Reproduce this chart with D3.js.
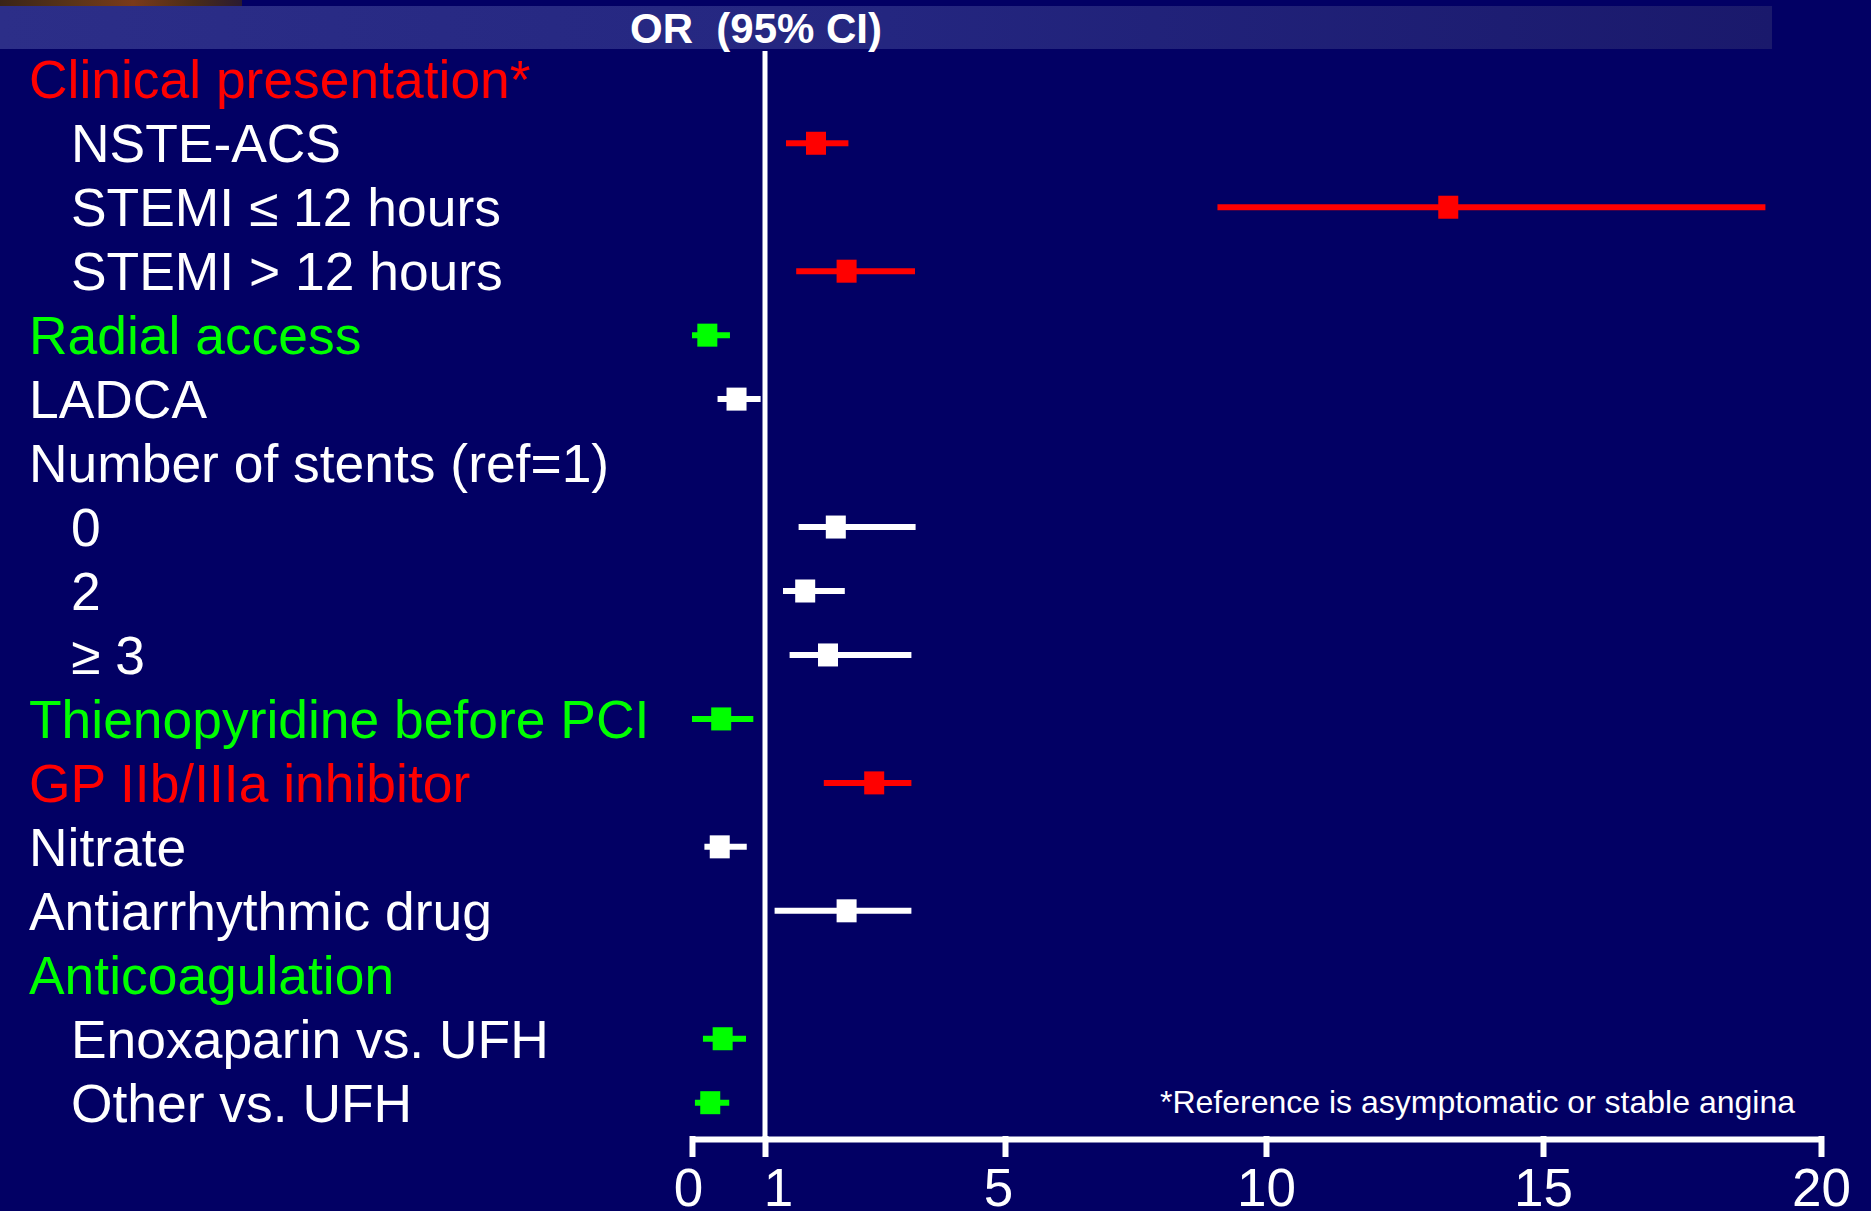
<!DOCTYPE html>
<html>
<head>
<meta charset="utf-8">
<script src="https://cdn.jsdelivr.net/npm/d3@7"></script>
<style>
  html, body { margin: 0; padding: 0; background: #020064; }
  svg { display: block; font-family: "Liberation Sans", Arial, sans-serif; }
</style>
</head>
<body>
<svg id="chart" width="1871" height="1211"></svg>
<script>
// ---- data ----
const labels = [
  "Clinical presentation*", "NSTE-ACS", "STEMI \u2264 12 hours", "STEMI > 12 hours",
  "Radial access", "LADCA", "Number of stents (ref=1)", "0", "2", "\u2265 3",
  "Thienopyridine before PCI", "GP IIb/IIIa inhibitor", "Nitrate", "Antiarrhythmic drug",
  "Anticoagulation", "Enoxaparin vs. UFH", "Other vs. UFH"
];
const indentLevels = [0, 1, 1, 1, 0, 0, 0, 1, 1, 1, 0, 0, 0, 0, 0, 1, 1];
const labelColors = ["red", "white", "white", "white", "green", "white", "white", "white", "white", "white",
                     "green", "red", "white", "white", "green", "white", "white"];
const markerColors = [null, "red", "red", "red", "green", "white", null, "white", "white", "white",
                      "green", "red", "white", "white", null, "green", "green"];
const oddsRatio = [null, 1.85, 13.29, 2.36, 0.21, 0.61, null, 2.18, 1.67, 2.05, 0.40, 2.82, 0.38, 2.36, null, 0.42, 0.25];
const ciLow     = [null, 1.35,  9.07, 1.52, 0.00, 0.35, null, 1.56, 1.30, 1.41, 0.00, 1.98, 0.17, 1.16, null, 0.15, 0.04];
const ciHigh    = [null, 2.39, 19.00, 3.50, 0.52, 0.94, null, 3.51, 2.33, 3.44, 0.84, 3.44, 0.75, 3.44, null, 0.74, 0.51];
const tickValues = [0, 1, 5, 10, 15, 20];
const headerText = "OR  (95% CI)";
const footnote = "*Reference is asymptomatic or stable angina";

// ---- rendering ----
const palette = { red: "#ff0000", green: "#00ff00", white: "#ffffff" };
const svg = d3.select("#chart");
const W = 1871, H = 1211;

const defs = svg.append("defs");
const band = defs.append("linearGradient").attr("id", "band").attr("x1", "0").attr("x2", "1");
band.append("stop").attr("offset", "0").attr("stop-color", "#2c2e88");
band.append("stop").attr("offset", "0.5").attr("stop-color", "#242680");
band.append("stop").attr("offset", "1").attr("stop-color", "#1a196c");
const brown = defs.append("linearGradient").attr("id", "brown").attr("x1", "0").attr("x2", "1");
brown.append("stop").attr("offset", "0").attr("stop-color", "#3a2418");
brown.append("stop").attr("offset", "0.3").attr("stop-color", "#5a3418");
brown.append("stop").attr("offset", "0.55").attr("stop-color", "#7a3a1a");
brown.append("stop").attr("offset", "0.8").attr("stop-color", "#4a2c18");
brown.append("stop").attr("offset", "1").attr("stop-color", "#2a1a30");

svg.append("rect").attr("width", W).attr("height", H).attr("fill", "#020064");
svg.append("rect").attr("x", 0).attr("y", 0).attr("width", 242).attr("height", 7).attr("fill", "url(#brown)");
svg.append("rect").attr("x", 0).attr("y", 6).attr("width", 1772).attr("height", 43).attr("fill", "url(#band)");

svg.append("text")
  .attr("x", 756).attr("y", 43)
  .attr("text-anchor", "middle")
  .attr("fill", "#fff").attr("font-weight", "bold").attr("font-size", 42)
  .style("white-space", "pre")
  .text(headerText);

// x: piecewise linear to match the slide's hand-drawn axis
const x = d3.scaleLinear()
  .domain(tickValues)
  .range([692, 765, 1005, 1266, 1543, 1821]);

const rows = d3.range(labels.length);
const y = d3.scalePoint().domain(rows).range([79.3, 1102.7]);

const axisY = 1139;

// reference line at OR = 1
svg.append("line")
  .attr("x1", x(1)).attr("x2", x(1))
  .attr("y1", 51).attr("y2", axisY)
  .attr("stroke", "#fff").attr("stroke-width", 5);

// axis
const axis = d3.axisBottom(x)
  .tickValues(tickValues)
  .tickFormat(d3.format("d"))
  .tickSizeInner(18)
  .tickSizeOuter(0)
  .tickPadding(11);
const gAxis = svg.append("g").attr("transform", `translate(0,${axisY})`).call(axis);
gAxis.select(".domain").attr("stroke", "#fff").attr("stroke-width", 6);
gAxis.selectAll(".tick line").attr("stroke", "#fff").attr("stroke-width", 6).attr("y1", -3);
const labelNudge = { 0: -4, 1: 13, 5: -7 };
gAxis.selectAll(".tick text")
  .attr("fill", "#fff")
  .attr("font-size", 53)
  .attr("dx", d => labelNudge[d] || 0)
  .attr("font-family", "'Liberation Sans', Arial, sans-serif");

// labels
svg.append("g").selectAll("text")
  .data(rows)
  .join("text")
  .attr("x", i => indentLevels[i] ? 71 : 29)
  .attr("y", i => y(i) + 19)
  .attr("fill", i => palette[labelColors[i]])
  .attr("font-size", 53.4)
  .text(i => labels[i]);

// CI lines and markers
const markerRows = rows.filter(i => oddsRatio[i] !== null);
const gm = svg.append("g");
gm.selectAll("line")
  .data(markerRows)
  .join("line")
  .attr("x1", i => x(ciLow[i]))
  .attr("x2", i => x(ciHigh[i]))
  .attr("y1", i => y(i))
  .attr("y2", i => y(i))
  .attr("stroke", i => palette[markerColors[i]])
  .attr("stroke-width", 6);
gm.selectAll("rect")
  .data(markerRows)
  .join("rect")
  .attr("x", i => x(oddsRatio[i]) - 10)
  .attr("y", i => y(i) - 11.5)
  .attr("width", 20)
  .attr("height", 23)
  .attr("fill", i => palette[markerColors[i]]);

// footnote
svg.append("text")
  .attr("x", 1160).attr("y", 1113)
  .attr("fill", "#fff")
  .attr("font-size", 32)
  .text(footnote);
</script>
</body>
</html>
